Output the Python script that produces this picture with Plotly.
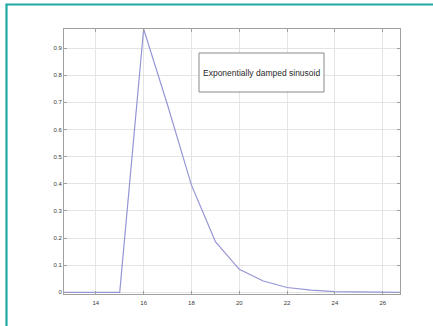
import plotly.graph_objects as go

# Sampled response: samples at integer time steps
t = [12, 13, 14, 15, 16, 17, 18, 19, 20, 21, 22, 23, 24, 25, 26, 27]
amplitude = [0, 0, 0, 0, 0.97, 0.69, 0.395, 0.187, 0.085, 0.042, 0.018, 0.008, 0.003, 0.001, 0.0, 0.0]

x_ticks = [14, 16, 18, 20, 22, 24, 26]
y_ticks = [0, 0.1, 0.2, 0.3, 0.4, 0.5, 0.6, 0.7, 0.8, 0.9]

W, H = 433, 326
L, R, T, B = 64, 33, 29, 32
pw, ph = W - L - R, H - T - B


def px(xp):
    return (xp - L) / pw


def py(yp):
    return (H - B - yp) / ph


fig = go.Figure()
fig.add_trace(go.Scatter(
    x=t, y=amplitude, mode="lines",
    line=dict(color="#9696d6", width=1.2),
    showlegend=False,
))

axis_common = dict(
    showgrid=True, gridcolor="#e4e4e4", gridwidth=1,
    showline=True, linecolor="#a0a0a0", linewidth=1, mirror="all",
    ticks="inside", ticklen=3, tickcolor="#a0a0a0",
    zeroline=False,
    tickfont=dict(family="Liberation Sans, Arial", size=6, color="#3a3a3a"),
)

fig.update_xaxes(range=[12.67, 26.72], tickvals=x_ticks,
                 ticktext=[str(v) for v in x_ticks], ticklabelstandoff=3, **axis_common)
fig.update_yaxes(range=[-0.006, 0.97], tickvals=y_ticks,
                 ticktext=["0"] + [f"{v:.1f}" for v in y_ticks[1:]], **axis_common)

# Legend-style caption box
fig.add_shape(type="rect", xref="paper", yref="paper",
              x0=px(199), x1=px(324), y0=py(92), y1=py(53),
              line=dict(color="#8a8a8a", width=1), fillcolor="white")
fig.add_annotation(xref="paper", yref="paper", x=px(261.5), y=py(72.5),
                   text="Exponentially damped sinusoid", showarrow=False,
                   xanchor="center", yanchor="middle",
                   font=dict(family="Liberation Sans, Arial", size=8.5, color="#2a2a2a"))

# Teal frame on the top and left of the page
fig.add_shape(type="line", xref="paper", yref="paper",
              x0=px(5.5), x1=px(433), y0=py(4.5), y1=py(4.5),
              line=dict(color="#20a8a4", width=2.2))
fig.add_shape(type="line", xref="paper", yref="paper",
              x0=px(6.5), x1=px(6.5), y0=py(4.5), y1=py(326),
              line=dict(color="#20a8a4", width=2.2))

fig.update_layout(
    width=W, height=H,
    margin=dict(l=L, r=R, t=T, b=B),
    paper_bgcolor="white", plot_bgcolor="white",
)

fig.write_html("out.html")
